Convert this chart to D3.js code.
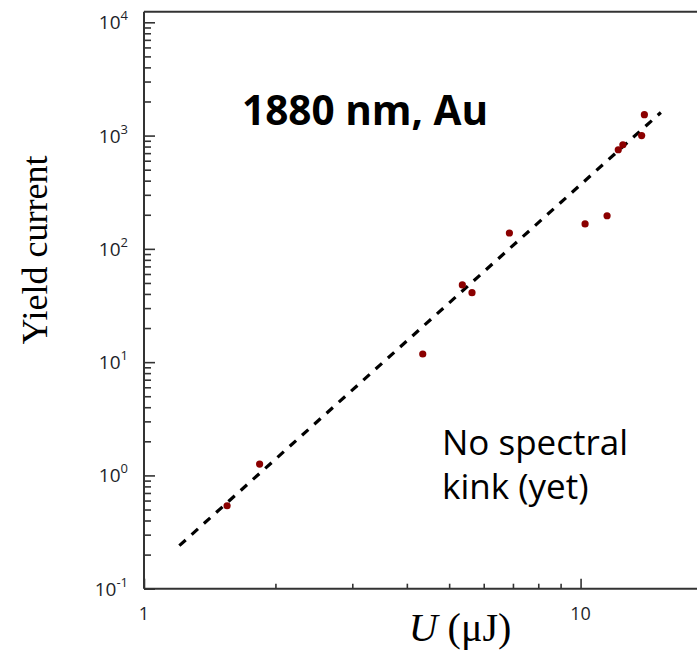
<!DOCTYPE html>
<html>
<head>
<meta charset="utf-8">
<script src="https://cdn.jsdelivr.net/npm/d3@7"></script>
<style>
  html, body { margin: 0; padding: 0; background: #fff; }
  svg { display: block; }
</style>
</head>
<body>
<svg id="chart" width="697" height="656"></svg>
<script>
// Pulse energy (µJ) and measured yield current, 1880 nm on gold
const energyUJ     = [1.55, 1.84, 4.35, 5.36, 5.64, 6.87, 10.24, 11.5, 12.2, 12.5, 13.8, 14.0];
const yieldCurrent = [0.54, 1.26, 11.8, 48,   41,   138,  166,   196,  750,  830,  1000, 1530];

// Power-law guide line end points
const fitEnergy = [1.205, 15.27];
const fitYield  = [0.24, 1600];

// Axis tick values
const yMajorTicks = [0.1, 1, 10, 100, 1000, 10000];
const yTickExponents = ["-1", "0", "1", "2", "3", "4"];
const xMajorTicks = [1, 10];
const xTickLabels = ["1", "10"];

const svg = d3.select("#chart");
const W = 697, H = 656;

const left = 144, bottom = 588.7, frameTop = 11.7;
const x = d3.scaleLog().domain([1, 20]).range([left, 712]);
const y = d3.scaleLog().domain([0.1, 1e4]).range([bottom, 22.3]);

// minor ticks at 2..9 of every decade
const yMinor = [];
for (let e = -1; e < 4; e++) for (let k = 2; k <= 9; k++) yMinor.push(k * Math.pow(10, e));
const xMinor = [];
for (let e = 0; e < 2; e++) for (let k = 2; k <= 9; k++) xMinor.push(k * Math.pow(10, e));

const axisColor = "#333";
const tickColor = "#1d1f2a";

// frame lines
svg.append("line").attr("x1", left).attr("x2", W).attr("y1", frameTop).attr("y2", frameTop)
  .attr("stroke", axisColor).attr("stroke-width", 2);
svg.append("line").attr("x1", left).attr("x2", left).attr("y1", frameTop).attr("y2", bottom)
  .attr("stroke", axisColor).attr("stroke-width", 2);
svg.append("line").attr("x1", left).attr("x2", W).attr("y1", bottom).attr("y2", bottom)
  .attr("stroke", axisColor).attr("stroke-width", 2);

function styleAxis(g) {
  g.select(".domain").remove();
  g.selectAll("text").remove();
  g.selectAll(".tick line").attr("stroke", axisColor).attr("stroke-width", 1.6);
}

// y axis ticks pointing inward
svg.append("g").attr("transform", `translate(${left},0)`)
  .call(d3.axisRight(y).tickValues(yMajorTicks).tickSize(11).tickSizeOuter(0))
  .call(styleAxis);
svg.append("g").attr("transform", `translate(${left},0)`)
  .call(d3.axisRight(y).tickValues(yMinor).tickSize(7).tickSizeOuter(0))
  .call(styleAxis);

// x axis ticks pointing inward
svg.append("g").attr("transform", `translate(0,${bottom})`)
  .call(d3.axisTop(x).tickValues(xMajorTicks).tickSize(10).tickSizeOuter(0))
  .call(styleAxis);
svg.append("g").attr("transform", `translate(0,${bottom})`)
  .call(d3.axisTop(x).tickValues(xMinor.filter(v => x(v) <= W)).tickSize(5).tickSizeOuter(0))
  .call(styleAxis);

// y tick labels with superscript exponents
const yLab = svg.append("g").attr("font-family", "'Open Sans', sans-serif").attr("fill", tickColor);
yMajorTicks.forEach((v, i) => {
  const t = yLab.append("text")
    .attr("x", 128).attr("y", y(v) + 7)
    .attr("text-anchor", "end").attr("font-size", 19);
  t.append("tspan").text("10");
  t.append("tspan").attr("dy", -9).attr("font-size", 13).text(yTickExponents[i]);
});

// x tick labels
svg.append("g").selectAll("text").data(xMajorTicks).join("text")
  .attr("x", d => x(d)).attr("y", 620)
  .attr("text-anchor", "middle")
  .attr("font-family", "'Open Sans', sans-serif").attr("font-size", 18)
  .attr("fill", tickColor)
  .text((d, i) => xTickLabels[i]);

// dashed power-law guide
svg.append("path")
  .datum(fitEnergy.map((e, i) => [e, fitYield[i]]))
  .attr("d", d3.line().x(d => x(d[0])).y(d => y(d[1])))
  .attr("fill", "none").attr("stroke", "#000")
  .attr("stroke-width", 3.2).attr("stroke-dasharray", "8.5,8");

// measured points
svg.append("g").selectAll("circle")
  .data(energyUJ.map((e, i) => [e, yieldCurrent[i]]))
  .join("circle")
  .attr("cx", d => x(d[0])).attr("cy", d => y(d[1]))
  .attr("r", 3.6).attr("fill", "#8b0000");

// axis titles
svg.append("text")
  .attr("transform", "translate(47,250) rotate(-90)")
  .attr("text-anchor", "middle")
  .attr("font-family", "'Liberation Serif', serif").attr("font-size", 36)
  .attr("fill", "#000")
  .text("Yield current");

const xt = svg.append("text")
  .attr("x", 460).attr("y", 641)
  .attr("text-anchor", "middle")
  .attr("font-family", "'Liberation Serif', serif").attr("font-size", 40)
  .attr("fill", "#000");
xt.append("tspan").attr("font-style", "italic").text("U");
xt.append("tspan").text(" (μJ)");

// annotations
svg.append("text")
  .attr("x", 242).attr("y", 125)
  .attr("font-family", "'Open Sans', sans-serif").attr("font-weight", 700).attr("font-size", 40.5)
  .attr("fill", "#000")
  .text("1880 nm, Au");

const noteFont = "'Open Sans', sans-serif";
svg.append("text").attr("x", 442).attr("y", 455)
  .attr("font-family", noteFont).attr("font-size", 35).attr("fill", "#000")
  .text("No spectral");
svg.append("text").attr("x", 442).attr("y", 499)
  .attr("font-family", noteFont).attr("font-size", 35).attr("fill", "#000")
  .text("kink (yet)");
</script>
</body>
</html>
